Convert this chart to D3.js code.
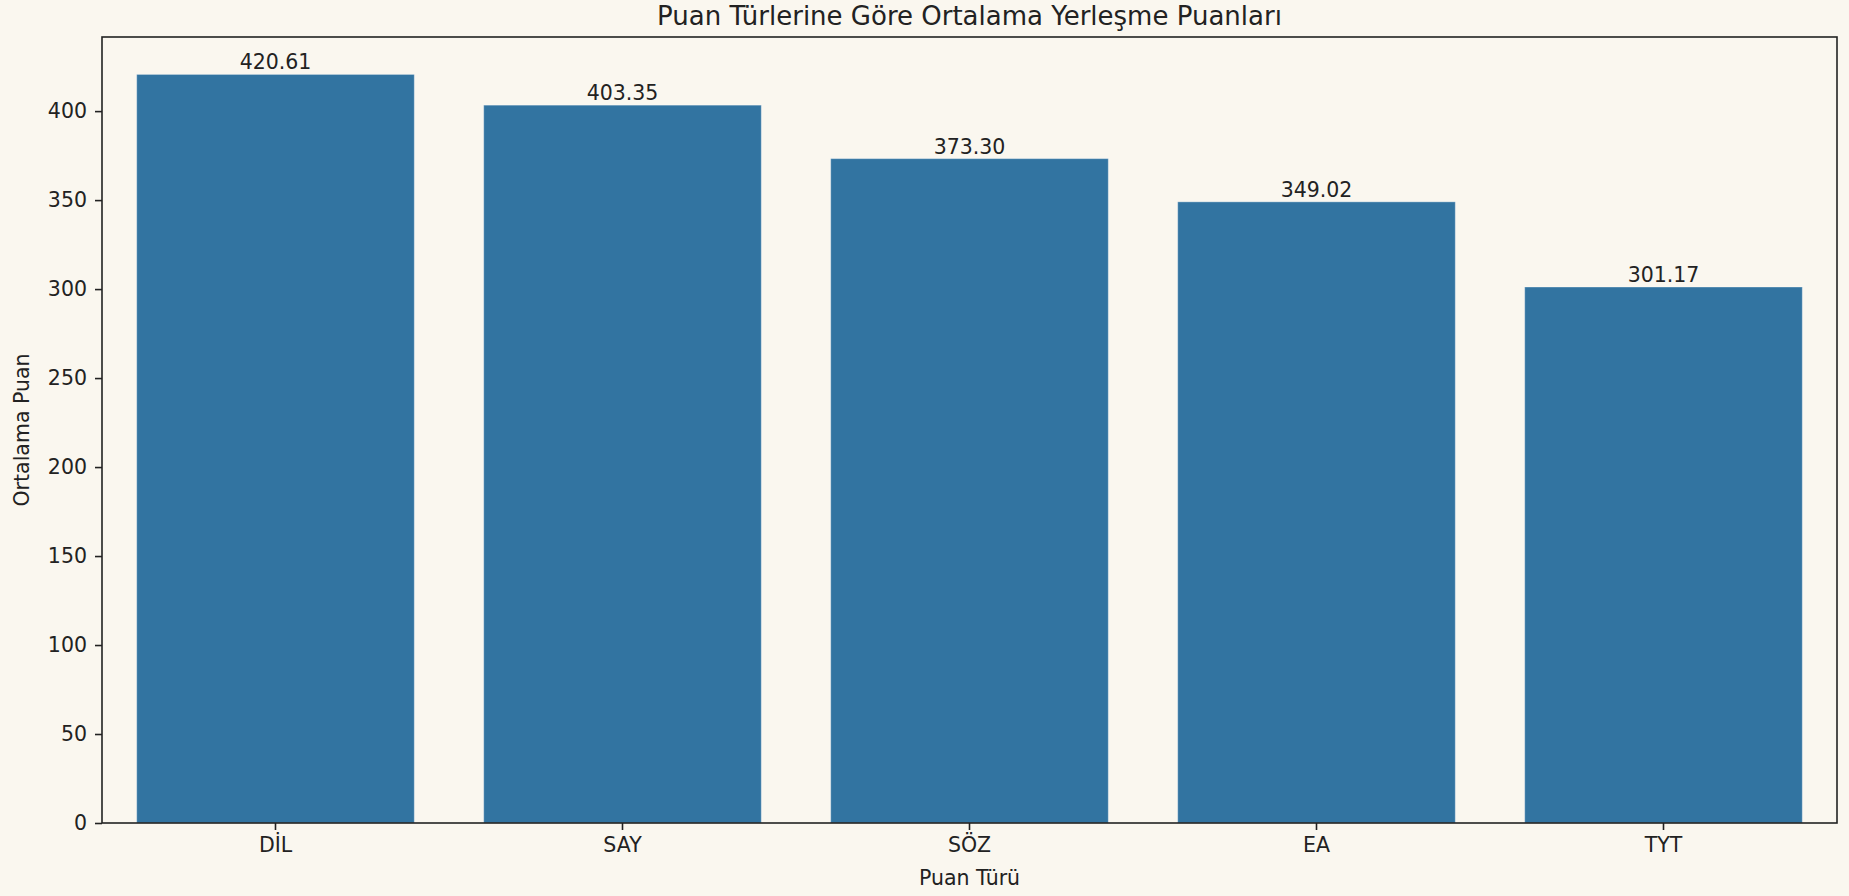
<!DOCTYPE html>
<html>
<head>
<meta charset="utf-8">
<script src="https://cdn.jsdelivr.net/npm/d3@7"></script>
<style>
  html, body { margin: 0; padding: 0; background: #faf7ef; }
  svg { display: block; }
  text { font-family: "DejaVu Sans", sans-serif; fill: #222; }
</style>
</head>
<body>
<svg id="chart" width="1849" height="896"></svg>
<script>
const categories = ["DİL", "SAY", "SÖZ", "EA", "TYT"];
const values = [420.61, 403.35, 373.30, 349.02, 301.17];
const yTicks = [0, 50, 100, 150, 200, 250, 300, 350, 400];
const titleText = "Puan Türlerine Göre Ortalama Yerleşme Puanları";
const xLabel = "Puan Türü";
const yLabel = "Ortalama Puan";

const W = 1849, H = 896;
const m = { left: 102, right: 12, top: 37, bottom: 73 };
const pw = W - m.left - m.right, ph = H - m.top - m.bottom;
const fs = 20.5, tfs = 26;

const svg = d3.select("#chart");
svg.append("rect").attr("width", W).attr("height", H).attr("fill", "#faf7ef");
const g = svg.append("g").attr("transform", `translate(${m.left},${m.top})`);

const x = d3.scaleBand().domain(categories).range([0, pw]).paddingInner(0.2).paddingOuter(0.1);
const y = d3.scaleLinear().domain([0, d3.max(values) * 1.05]).range([ph, 0]);

// bars
g.selectAll("rect.bar").data(values).enter().append("rect")
  .attr("class", "bar")
  .attr("x", (d, i) => x(categories[i]))
  .attr("width", x.bandwidth())
  .attr("y", d => y(d))
  .attr("height", d => ph - y(d))
  .attr("fill", "#3274a1")
  .attr("stroke", "rgba(255,255,255,0.35)")
  .attr("stroke-width", 1);

// value labels
g.selectAll("text.val").data(values).enter().append("text")
  .attr("class", "val")
  .attr("x", (d, i) => x(categories[i]) + x.bandwidth() / 2)
  .attr("y", d => y(d) - 5)
  .attr("text-anchor", "middle")
  .attr("font-size", fs)
  .text(d => d.toFixed(2));

// axes
const xAxis = g.append("g").attr("transform", `translate(0,${ph})`)
  .call(d3.axisBottom(x).tickSize(7).tickPadding(7).tickSizeOuter(0));
const yAxis = g.append("g")
  .call(d3.axisLeft(y).tickValues(yTicks).tickSize(7).tickPadding(8).tickSizeOuter(0));
[xAxis, yAxis].forEach(a => {
  a.select(".domain").remove();
  a.selectAll(".tick line").attr("stroke", "#222").attr("stroke-width", 1.6);
  a.selectAll(".tick text").attr("font-size", fs).attr("fill", "#222")
    .style("font-family", '"DejaVu Sans", sans-serif');
});

// frame (spines)
g.append("rect").attr("x", 0).attr("y", 0).attr("width", pw).attr("height", ph)
  .attr("fill", "none").attr("stroke", "#222").attr("stroke-width", 1.6);

// title
svg.append("text").attr("x", m.left + pw / 2).attr("y", m.top - 12)
  .attr("text-anchor", "middle").attr("font-size", tfs).text(titleText);

// axis labels
svg.append("text").attr("x", m.left + pw / 2).attr("y", 885)
  .attr("text-anchor", "middle").attr("font-size", fs).text(xLabel);
svg.append("text")
  .attr("transform", `translate(29,${m.top + ph / 2}) rotate(-90)`)
  .attr("text-anchor", "middle").attr("font-size", fs).text(yLabel);
</script>
</body>
</html>
